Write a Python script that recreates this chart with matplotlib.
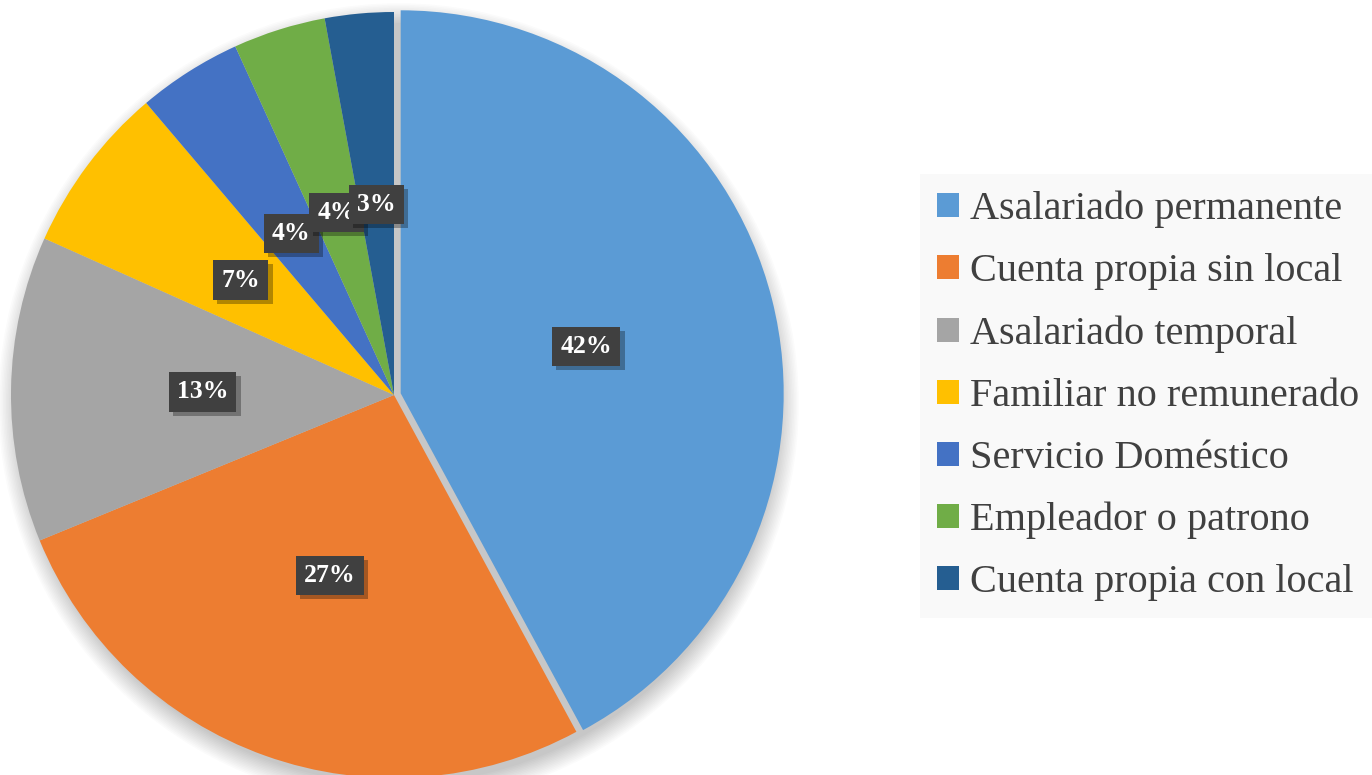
import matplotlib.pyplot as plt
import matplotlib.patheffects as pe
from matplotlib.patches import Circle, Patch

# datos
categorias = ['Asalariado permanente', 'Cuenta propia sin local', 'Asalariado temporal',
              'Familiar no remunerado', 'Servicio Doméstico', 'Empleador o patrono',
              'Cuenta propia con local']
porcentajes = [42.1, 26.7, 12.9, 7.1, 4.4, 3.9, 2.9]
colores = ['#5B9BD5', '#ED7D31', '#A5A5A5', '#FFC000', '#4472C4', '#70AD47', '#255E91']

W, H = 1372, 775
fig = plt.figure(figsize=(W / 100, H / 100), dpi=100, facecolor='white')

# posicion del pie (pixeles)
cx, cy, r = 394, 395, 383
ax = fig.add_axes([(cx - r) / W, (H - cy - r) / H, 2 * r / W, 2 * r / H])
ax.set_axis_off()

# sombra difusa debajo del pie
for i in range(14):
    rad = 1.045 - i * 0.004
    ax.add_patch(Circle((0.012, -0.022), rad, color='black', alpha=0.014, lw=0,
                        zorder=0, clip_on=False))

explode = [0.018, 0, 0, 0, 0, 0, 0]
wedges, texts, autotexts = ax.pie(
    porcentajes, colors=colores, startangle=90, counterclock=False,
    explode=explode, radius=1, autopct='%.0f%%', pctdistance=0.5,
    wedgeprops=dict(linewidth=0),
    textprops=dict(color='white', fontsize=18.5, fontweight='bold', family='Liberation Serif'))
for w in wedges:
    w.set_zorder(2)
    w.set_clip_on(False)

for t in autotexts:
    t.set_zorder(5)
    t.set_bbox(dict(facecolor='#404040', edgecolor='none', boxstyle='square,pad=0.32'))
    t.get_bbox_patch().set_path_effects(
        [pe.withSimplePatchShadow(offset=(3, -3), shadow_rgbFace='black', alpha=0.3)])

ax.set_xlim(-1, 1)
ax.set_ylim(-1, 1)
ax.set_aspect('equal')

# leyenda
handles = [Patch(facecolor=c, edgecolor='none') for c in colores]
leg = fig.legend(handles, categorias, loc='upper left',
                 bbox_to_anchor=(920 / W, (H - 174) / H), borderaxespad=0,
                 prop=dict(family='Liberation Serif', size=29),
                 handlelength=0.54, handleheight=0.54, handletextpad=0.27,
                 labelspacing=0.62, borderpad=0.42, frameon=True, fancybox=False)
leg.get_frame().set_facecolor('#F8F8F8')
leg.get_frame().set_edgecolor('none')
for txt in leg.get_texts():
    txt.set_color('#404040')

fig.savefig('out.png', dpi=100, facecolor='white')
